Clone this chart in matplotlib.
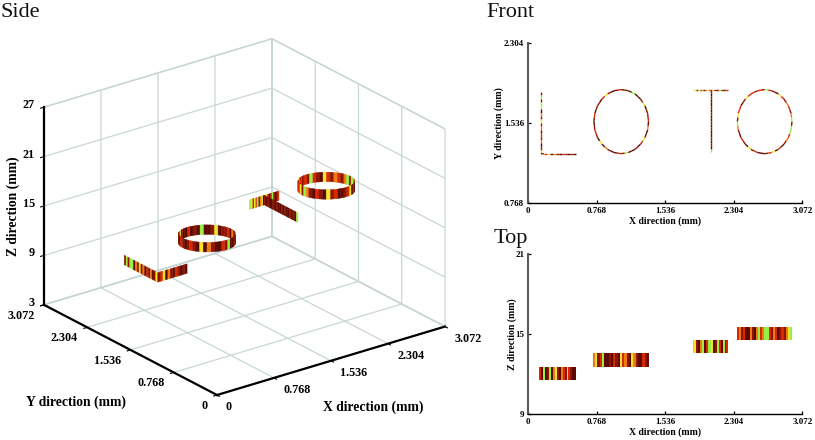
import numpy as np
import matplotlib
matplotlib.use('Agg')
import matplotlib.pyplot as plt
from matplotlib.colors import ListedColormap
from matplotlib.collections import LineCollection
from mpl_toolkits.mplot3d.art3d import Poly3DCollection
from mpl_toolkits.mplot3d import proj3d

plt.rcParams['font.family'] = ['Liberation Serif', 'DejaVu Serif']

PALETTE = ['#5c0a00', '#8f1500', '#d92800', '#ee7a12', '#f4e428', '#98f046']
cmap = ListedColormap(PALETTE)

x_ticks = [0, 0.768, 1.536, 2.304, 3.072]
x_tick_labels = ['0', '0.768', '1.536', '2.304', '3.072']
y3d_ticks = x_ticks
z3d_ticks = [3, 9, 15, 21, 27]
front_y_ticks = [0.768, 1.536, 2.304]
front_y_labels = ['0.768', '1.536', '2.304']
top_z_ticks = [9, 15, 21]

# letter outlines (mm), x-y plane
L_x = [0.142, 0.142, 0.538]
L_y = [1.835, 1.240, 1.240]
T1_x = [1.842, 2.242]
T1_y = [1.854, 1.854]
T2_x = [2.044, 2.044]
T2_y = [1.854, 1.256]
O1_x = [1.348, 1.338, 1.307, 1.258, 1.195, 1.121, 1.042, .963, .889, .826, .777, .746, .736,
        .746, .777, .826, .889, .963, 1.042, 1.121, 1.195, 1.258, 1.307, 1.338, 1.348]
O_y = [1.549, 1.629, 1.704, 1.767, 1.817, 1.847, 1.858, 1.847, 1.817, 1.767, 1.704, 1.629, 1.549,
       1.469, 1.394, 1.331, 1.281, 1.251, 1.240, 1.251, 1.281, 1.331, 1.394, 1.469, 1.549]
O2_x = [2.956, 2.946, 2.915, 2.866, 2.803, 2.729, 2.650, 2.571, 2.497, 2.434, 2.385, 2.354, 2.344,
        2.354, 2.385, 2.434, 2.497, 2.571, 2.650, 2.729, 2.803, 2.866, 2.915, 2.946, 2.956]

# layer limits (mm) in the top view
L_z = [11.55, 12.55]
O1_z = [12.55, 13.55]
T_z = [13.55, 14.55]
O2_z = [14.55, 15.55]
# layer limits (mm) as drawn in the side view
L_z3 = [11.9, 13.05]
O1_z3 = [13.1, 14.25]
T_z3 = [13.95, 15.1]
O2_z3 = [15.15, 16.3]
O1_centre = [1.042, 1.549]
O2_centre = [2.650, 1.549]

# stripe colour classes along each outline
L_vals = [1, 5, 1, 5, 5, 0, 3, 1, 4, 1, 3, 0, 2, 1, 3, 0, 1, 4, 1, 2, 4, 0, 3, 1, 0, 2, 1, 0, 1, 0]
T1_vals = [5, 4, 1, 4, 2, 5, 0, 3, 4, 0, 2, 4, 1, 0, 2, 5, 1, 0, 1, 2]
T2_vals = [1, 0, 1, 0, 0, 1, 0, 1, 0, 0, 1, 0, 1, 0, 0, 1, 0, 1, 0, 5]
O1_vals = [2, 1, 1, 0, 4, 1, 0, 0, 5, 0, 1, 0, 2, 0, 0, 1, 4, 2, 0, 1, 1, 0, 2, 1,
           0, 1, 2, 1, 0, 4, 0, 3, 1, 0, 0, 2, 1, 5, 0, 0, 1, 0, 2, 4, 1, 0, 3, 0]
O2_vals = [5, 3, 1, 2, 3, 1, 2, 4, 0, 1, 2, 5, 1, 2, 1, 2, 2, 4, 1, 0, 2, 2, 4, 1,
           5, 3, 1, 0, 2, 1, 0, 4, 1, 2, 0, 0, 1, 2, 4, 0, 2, 0, 1, 3, 2, 5, 5, 1]

# stripes seen from the top
L_top = [2, 0, 5, 0, 1, 5, 0, 3, 4, 1, 0, 3, 2, 1, 4, 2, 1, 0, 0]
O1_top = [3, 4, 1, 2, 5, 0, 0, 1, 0, 2, 1, 0, 4, 2, 3, 1, 0, 4, 3, 1, 0, 0, 2, 1, 0]
T_top = [5, 4, 1, 0, 3, 5, 0, 2, 5, 5, 4, 0, 1, 5, 2, 0, 5, 1, 2]
O2_top = [2, 3, 1, 2, 0, 0, 3, 1, 0, 3, 5, 2, 3, 5, 5, 2, 1, 3, 2, 0, 1, 2, 1, 3, 4, 5]
L_top_x = [0.123, 0.538]
O1_top_x = [0.725, 1.356]
T_top_x = [1.842, 2.242]
O2_top_x = [2.340, 2.956]

FONT3D = dict(fontsize=8.7, fontweight='bold')
LABEL3D = dict(fontsize=9.8, fontweight='bold')
FLATTEN = 0.22  # the rings look flatter in the side view than the box projection gives


def stripes(xs, ys, n):
    xs, ys = np.asarray(xs), np.asarray(ys)
    s = np.r_[0, np.cumsum(np.hypot(np.diff(xs), np.diff(ys)))]
    t = np.linspace(0, s[-1], n + 1)
    return np.interp(t, s, xs), np.interp(t, s, ys)


W, H = 815, 440
fig = plt.figure(figsize=(W / 100, H / 100), dpi=100)
fig.patch.set_facecolor('white')

# -------------------- 3D panel
ax = fig.add_axes([0, 0, 1, 1], projection='3d', proj_type='ortho')
ax.view_init(elev=23.3, azim=-127.2)
ax.set_box_aspect((286, 286, 215))
ax.set_xlim(0, 3.072, view_margin=0)
ax.set_ylim(0, 3.072, view_margin=0)
ax.set_zlim(3, 27, view_margin=0)

polys, cols = [], []
for px, py, zz, vals, ctr in [(L_x, L_y, L_z3, L_vals, None), (T1_x, T1_y, T_z3, T1_vals, None),
                              (T2_x, T2_y, T_z3, T2_vals, None),
                              (O1_x, O_y, O1_z3, O1_vals, O1_centre), (O2_x, O_y, O2_z3, O2_vals, O2_centre)]:
    sx, sy = stripes(px, py, len(vals))
    if ctr is None:
        dz = np.zeros_like(sx)
    else:
        dz = -FLATTEN * (22.1 * (sx - ctr[0]) + 29.6 * (sy - ctr[1])) / 8.25
    for i, v in enumerate(vals):
        polys.append([(sx[i], sy[i], zz[0] + dz[i]), (sx[i + 1], sy[i + 1], zz[0] + dz[i + 1]),
                      (sx[i + 1], sy[i + 1], zz[1] + dz[i + 1]), (sx[i], sy[i], zz[1] + dz[i])])
        cols.append(PALETTE[v])
ax.add_collection3d(Poly3DCollection(polys, facecolors=cols, edgecolors=cols, linewidths=0.3, zsort='average'))

GRID = '#c9d6d6'
for a in (ax.xaxis, ax.yaxis, ax.zaxis):
    a.set_pane_color((1, 1, 1, 1))
    a.pane.set_edgecolor(GRID)
    a._axinfo['grid'].update(color=GRID, linewidth=0.9)
    a._axinfo['tick'].update(inward_factor=0.18, outward_factor=0.0)
    a.line.set_color('black')
    a.line.set_linewidth(1.6)
ax.set_xticks(x_ticks, [''] * len(x_ticks))
ax.set_yticks(y3d_ticks, [''] * len(y3d_ticks))
ax.set_zticks(z3d_ticks, [''] * len(z3d_ticks))
ax.zaxis.set_ticks_position('upper')
ax.zaxis.set_label_position('upper')


def screen(pt):
    xp, yp, _ = proj3d.proj_transform(pt[0], pt[1], pt[2], ax.get_proj())
    return ax.transData.transform((xp, yp))


def screen_d(pt):
    fig.canvas.draw()
    return screen(pt)


# fit the box: origin corner at (217,395) px, x end at (445,327) px
S = 440.0
ax.set_position([0.1, 0.0, S / W, S / H])
a0, a1 = screen_d((0, 0, 3)), screen_d((3.072, 0, 3))
S *= 228.0 / (a1[0] - a0[0])
ax.set_position([0.1, 0.0, S / W, S / H])
a0 = screen_d((0, 0, 3))
tx, ty = 217 - a0[0], (H - 395) - a0[1]
ax.set_position([0.1 + tx / W, ty / H, S / W, S / H])
fig.canvas.draw()


def label_at(pt, ox, oy, s, **kw):
    p = screen(pt)
    fig.text((p[0] + ox) / W, (p[1] - oy) / H, s, **kw)


for t, s in zip(x_ticks, x_tick_labels):
    if t == 0:
        label_at((t, 0, 3), 12, 12, s, ha='center', va='center', **FONT3D)
    else:
        label_at((t, 0, 3), 23, 12, s, ha='center', va='center', **FONT3D)
for t, s in zip(y3d_ticks, x_tick_labels):
    if t == 0:
        label_at((0, t, 3), -12, 11, s, ha='center', va='center', **FONT3D)
    else:
        label_at((0, t, 3), -23, 11, s, ha='center', va='center', **FONT3D)
for t in z3d_ticks:
    label_at((0, 3.072, t), -9, -2, str(t), ha='right', va='center', **FONT3D)
fig.text(373 / W, 1 - 407 / H, 'X direction (mm)', ha='center', va='center', **LABEL3D)
fig.text(76 / W, 1 - 402 / H, 'Y direction (mm)', ha='center', va='center', **LABEL3D)
fig.text(13 / W, 1 - 206 / H, 'Z direction (mm)', ha='center', va='center', rotation=90, **LABEL3D)

# -------------------- 2D panels
L_PX, R_PX = 528.3, 802.3


def make2d(top, bottom):
    a = fig.add_axes([L_PX / W, 1 - bottom / H, (R_PX - L_PX) / W, (bottom - top) / H])
    a.spines[['top', 'right']].set_visible(False)
    a.spines['left'].set_color('#555555')
    a.spines['left'].set_linewidth(1.4)
    a.spines['bottom'].set_linewidth(1.0)
    a.set_xlim(0, 3.072)
    a.set_xticks(x_ticks, x_tick_labels)
    a.tick_params(direction='in', length=2.5, width=0.9, labelsize=6.5, pad=3)
    for t in a.get_xticklabels() + a.get_yticklabels():
        t.set_fontweight('bold')
    a.set_xlabel('X direction (mm)', fontsize=7, fontweight='bold', labelpad=1)
    return a


front = make2d(43.3, 202.7)
front.set_ylim(0.768, 2.304)
front.set_yticks(front_y_ticks, front_y_labels, fontweight='bold')
front.set_ylabel('Y direction (mm)', fontsize=7, fontweight='bold', labelpad=0)
for px, py, vals in [(L_x, L_y, L_vals), (T1_x, T1_y, T1_vals), (T2_x, T2_y, T2_vals),
                     (O1_x, O_y, O1_vals), (O2_x, O_y, O2_vals)]:
    sx, sy = stripes(px, py, len(vals))
    seg = [[(sx[i], sy[i]), (sx[i + 1], sy[i + 1])] for i in range(len(vals))]
    front.add_collection(LineCollection(seg, colors=[PALETTE[v] for v in vals], linewidths=1.0))

top = make2d(254.3, 414)
top.set_ylim(9, 21)
top.set_yticks(top_z_ticks, [str(z) for z in top_z_ticks], fontweight='bold')
top.set_ylabel('Z direction (mm)', fontsize=7, fontweight='bold', labelpad=-1)
for xr, zr, vals in [(L_top_x, L_z, L_top), (O1_top_x, O1_z, O1_top), (T_top_x, T_z, T_top), (O2_top_x, O2_z, O2_top)]:
    top.pcolormesh(np.linspace(xr[0], xr[1], len(vals) + 1), zr, [vals], cmap=cmap, vmin=-0.5, vmax=5.5)

# -------------------- panel titles
for s, xp, yp in [('Side', 1, 17), ('Front', 486, 17), ('Top', 494, 243)]:
    fig.text(xp / W, 1 - yp / H, s, fontsize=16, color='#111111', ha='left', va='baseline')

fig.savefig('out.png', dpi=100)
